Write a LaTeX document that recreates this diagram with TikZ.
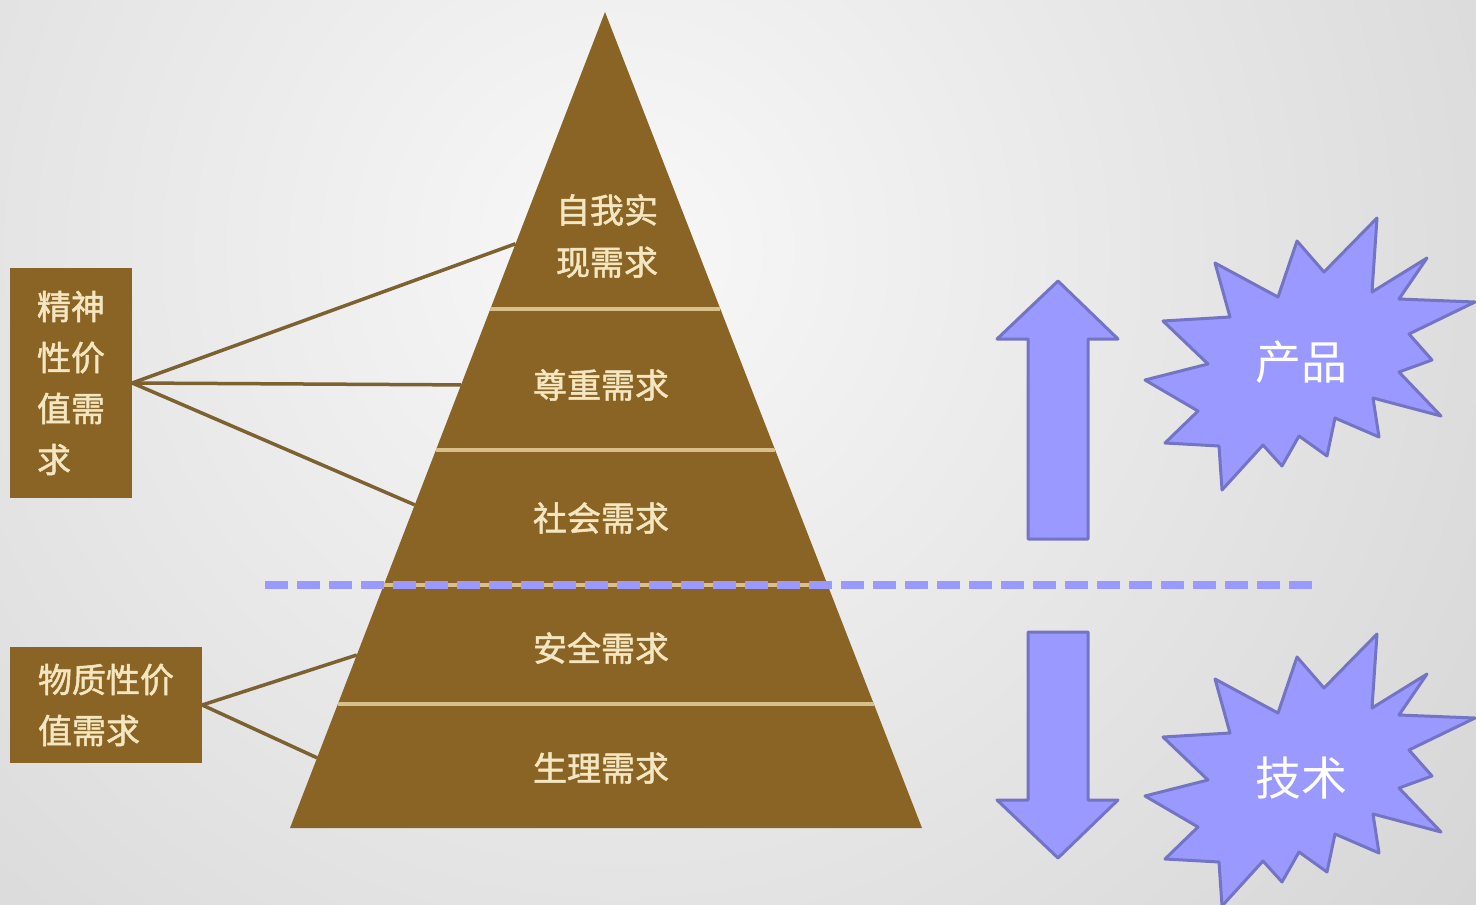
\documentclass[tikz,border=0pt]{standalone}
\usepackage{fontspec}
\newfontfamily\cjk{Noto Sans CJK SC}
\newfontfamily\cjkbold[FakeBold=1.5]{Noto Sans CJK SC}
\usetikzlibrary{calc}

\definecolor{pyrbrown}{HTML}{8A6424}
\definecolor{creamtext}{HTML}{F4E6C0}
\definecolor{bandtan}{HTML}{D9C08A}
\definecolor{linkbrown}{HTML}{7C6131}
\definecolor{arrowfill}{HTML}{9999FF}
\definecolor{arrowedge}{HTML}{7474C4}
\definecolor{bgin}{HTML}{F8F8F8}
\definecolor{bgout}{HTML}{D2D2D2}

\tikzset{
  level/.style={font=\cjkbold\fontsize{34}{52}\selectfont, text=creamtext, align=center},
  valuebox/.style={fill=pyrbrown, font=\cjkbold\fontsize{34}{51}\selectfont, text=creamtext, align=left, inner sep=0pt},
  link/.style={draw=linkbrown, line width=3.5pt},
  bandline/.style={draw=bandtan, line width=4pt},
  divider/.style={draw=arrowfill, line width=8pt, dash pattern=on 23pt off 9pt},
  bigarrow/.style={fill=arrowfill, draw=arrowedge, line width=3pt, line join=round},
  burstlabel/.style={font=\cjk\fontsize{46}{50}\selectfont, text=white},
  burst/.pic={
    \draw[bigarrow] (77,-144) -- (72,-70) -- (127,-104) -- (99,-63) -- (175,-60)
      -- (109,-28) -- (132,-2) -- (99,10) -- (141,54) -- (73,36) -- (79,75)
      -- (35,56) -- (27,94) -- (-1,74) -- (-18,104) -- (-37,83) -- (-78,128)
      -- (-81,84) -- (-135,81) -- (-102,49) -- (-155,18) -- (-92,2) -- (-137,-41)
      -- (-70,-45) -- (-85,-99) -- (-22,-65) -- (-3,-121) -- (24,-90) -- cycle;
  }
}

\begin{document}
\begin{tikzpicture}[x=1pt,y=-1pt]
\useasboundingbox (0,0) rectangle (1476,905);

% background
\begin{scope}
\clip (0,0) rectangle (1476,905);
\shade[inner color=bgin, outer color=bgout] (620,250) circle (1200);
\end{scope}

% pyramid
\coordinate (apex) at (605,12);
\coordinate (bl) at (290,828);
\coordinate (br) at (922,828);
\coordinate (p1) at ($(apex)!0.284!(bl)$);
\coordinate (p2) at ($(apex)!0.457!(bl)$);
\coordinate (p3) at ($(apex)!0.604!(bl)$);
\coordinate (p4) at ($(apex)!0.788!(bl)$);
\coordinate (p5) at ($(apex)!0.914!(bl)$);

\fill[pyrbrown] (apex) -- (br) -- (bl) -- cycle;
\begin{scope}
\clip (apex) -- (br) -- (bl) -- cycle;
\foreach \t in {0.364,0.5368,0.7022,0.848}
  \draw[bandline] ($(apex)!\t!(bl)$) -- ($(apex)!\t!(br)$);
\end{scope}

\node[level] (selfact) at (607,236) {自我实\\现需求};
\node[level] (esteem) at (601,385) {尊重需求};
\node[level] (social) at (601,518) {社会需求};
\node[level] (safety) at (601,648) {安全需求};
\node[level] (physio) at (601,768) {生理需求};

% value boxes
\node[valuebox, minimum width=122pt, minimum height=230pt] (spirit) at (71,383) {精神\\性价\\值需\\求};
\node[valuebox, minimum width=192pt, minimum height=116pt] (material) at (106,705) {物质性价\\值需求};

\draw[link] (spirit.east) -- (p1);
\draw[link] (spirit.east) -- (p2);
\draw[link] (spirit.east) -- (p3);
\draw[link] (material.east) -- (p4);
\draw[link] (material.east) -- (p5);

% divider
\draw[divider] (265,585) -- (1313,585);

% arrows
\draw[bigarrow] (1058,281) -- (1118,339) -- (1088,339) -- (1088,539) -- (1028,539)
  -- (1028,339) -- (997,339) -- cycle;
\draw[bigarrow] (1028,632) -- (1088,632) -- (1088,800) -- (1118,800) -- (1058,858)
  -- (997,800) -- (1028,800) -- cycle;

% bursts
\pic at (1300,362) {burst};
\pic at (1300,778) {burst};
\node[burstlabel] (product) at (1301,362) {产品};
\node[burstlabel] (tech) at (1301,778) {技术};

\end{tikzpicture}
\end{document}
